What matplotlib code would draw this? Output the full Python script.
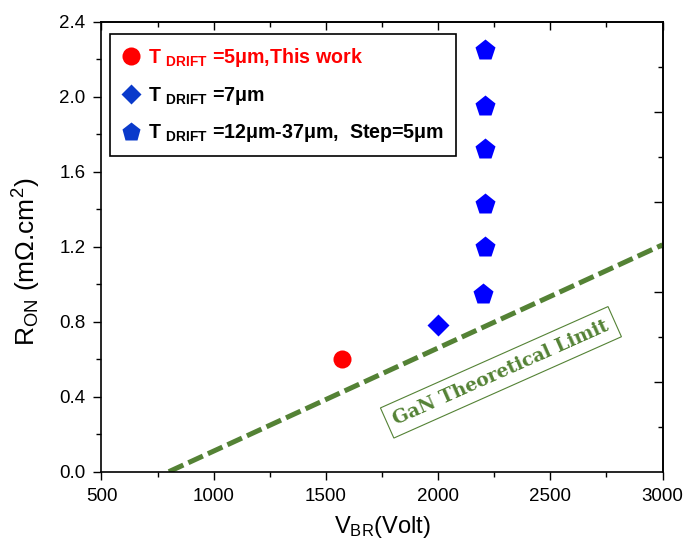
import matplotlib
matplotlib.use("Agg")
import matplotlib.pyplot as plt
from matplotlib.lines import Line2D
from matplotlib.ticker import MultipleLocator, FixedLocator, FormatStrFormatter

plt.rcParams['font.family'] = ['Liberation Sans', 'DejaVu Sans']
plt.rcParams['mathtext.fontset'] = 'custom'
plt.rcParams['mathtext.rm'] = 'Liberation Sans'
plt.rcParams['mathtext.it'] = 'Liberation Sans:italic'
plt.rcParams['mathtext.bf'] = 'Liberation Sans:bold'

# Breakdown voltage (V) and specific on-resistance (mOhm.cm^2)
this_work_vbr = [1573]
this_work_ron = [0.60]

t7_vbr = [2000]
t7_ron = [0.78]

t12_37_vbr = [2210, 2210, 2210, 2210, 2210, 2200]
t12_37_ron = [2.25, 1.95, 1.72, 1.43, 1.20, 0.95]

# GaN theoretical limit line endpoints
limit_vbr = [800, 3000]
limit_ron = [0.0, 1.21]

labels = [
    r"T $_{\mathbf{DRIFT}}$ =5μm,This work",
    r"T $_{\mathbf{DRIFT}}$ =7μm",
    r"T $_{\mathbf{DRIFT}}$ =12μm-37μm,  Step=5μm",
]

green = '#548235'

fig = plt.figure(figsize=(6.83, 5.45), dpi=100)
ax = fig.add_axes([0.1486, 0.1345, 0.8214, 0.8257])

ax.plot(limit_vbr, limit_ron, color=green, lw=3.6,
        linestyle=(0, (3.2, 1.1)), solid_capstyle='butt', zorder=2)

ax.plot(this_work_vbr, this_work_ron, 'o', color='#FF0000', ms=13,
        mec='none', zorder=3)
ax.plot(t7_vbr, t7_ron, 'D', color='#0000FF', ms=11, mec='none', zorder=3)
ax.plot(t12_37_vbr, t12_37_ron, 'p', color='#0000FF', ms=15.5, mec='none',
        zorder=3)

ax.text(2280, 0.530, "GaN Theoretical Limit", rotation=24,
        rotation_mode='anchor', ha='center', va='center',
        family='DejaVu Serif', fontweight='bold', fontsize=13.5, color=green,
        bbox=dict(boxstyle='square,pad=0.4', fc='white', ec=green, lw=0.8),
        zorder=4)

ax.set_xlim(500, 3000)
ax.set_ylim(0, 2.4)
ax.xaxis.set_major_locator(MultipleLocator(500))
ax.xaxis.set_minor_locator(MultipleLocator(250))
ax.yaxis.set_major_locator(MultipleLocator(0.4))
ax.yaxis.set_minor_locator(MultipleLocator(0.2))
ax.yaxis.set_major_formatter(FormatStrFormatter('%.1f'))

for s in ax.spines.values():
    s.set_linewidth(1.2)
ax.tick_params(which='major', direction='out', length=6.0, width=1.0,
               labelsize=13.5)
ax.tick_params(axis='y', which='major', pad=5.5)
ax.tick_params(axis='x', which='major', pad=6.0)
ax.tick_params(which='minor', direction='out', length=3.5, width=1.0)

top = ax.secondary_xaxis('top')
top.xaxis.set_major_locator(MultipleLocator(500))
top.xaxis.set_minor_locator(MultipleLocator(250))
top.tick_params(which='major', direction='in', length=6.0, width=1.0,
                labeltop=False)
top.tick_params(which='minor', direction='in', length=3.5, width=1.0)
top.spines['top'].set_linewidth(1.2)

right = ax.secondary_yaxis('right')
right.yaxis.set_major_locator(FixedLocator([0.48, 0.96, 1.44, 1.92]))
right.yaxis.set_minor_locator(FixedLocator([0.24, 0.72, 1.20, 1.68, 2.16]))
right.tick_params(which='major', direction='in', length=6.5, width=1.0,
                  labelright=False)
right.tick_params(which='minor', direction='in', length=3.5, width=1.0)
right.spines['right'].set_linewidth(1.2)

ax.set_xlabel(r"V$_{\rm BR}$(Volt)", fontsize=17, labelpad=6)
ax.set_ylabel(r"R$_{\rm ON}$ (mΩ.cm$^2$)", fontsize=19)
ax.yaxis.set_label_coords(-0.104, 0.466)

handles = [
    Line2D([], [], ls='none', marker='o', color='#FF0000', ms=13, mec='none'),
    Line2D([], [], ls='none', marker='D', color='#0A3ACB', ms=10, mec='none'),
    Line2D([], [], ls='none', marker='p', color='#0A3ACB', ms=14, mec='none'),
]
leg = ax.legend(handles, labels, loc='upper left',
                bbox_to_anchor=(0.0152, 0.972), fancybox=False,
                edgecolor='black', framealpha=1,
                prop={'weight': 'bold', 'size': 14.1},
                handlelength=0.9, handletextpad=0.45, labelspacing=0.8,
                borderpad=0.6, borderaxespad=0.0)
leg.get_frame().set_linewidth(1.2)
for t, c in zip(leg.get_texts(), ['#FF0000', 'black', 'black']):
    t.set_color(c)

fig.savefig('out.png', dpi=100)
